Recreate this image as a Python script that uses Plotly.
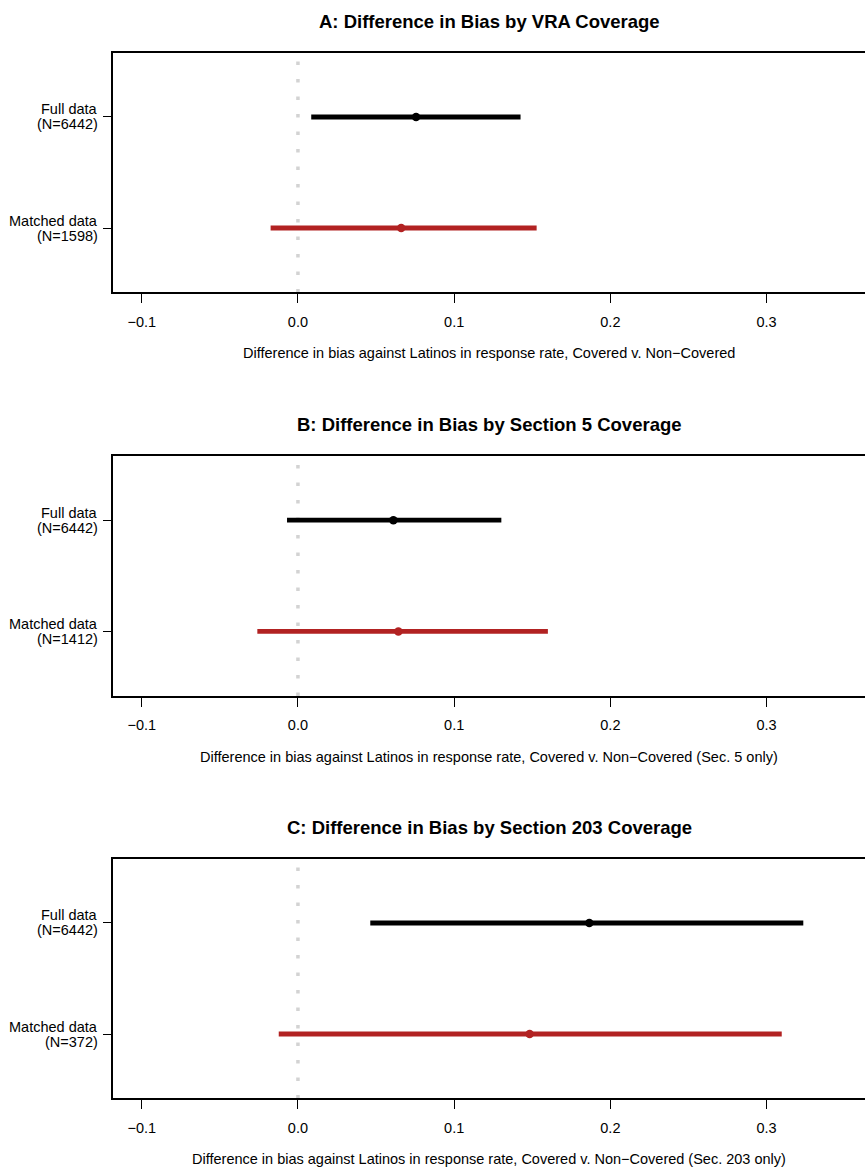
import plotly.graph_objects as go

# ---- data ----
row_line1 = ["Full data", "Matched data"]
row_line2_A = ["(N=6442)", "(N=1598)"]
row_line2_B = ["(N=6442)", "(N=1412)"]
row_line2_C = ["(N=6442)", "(N=372)"]
row_pos = [2, 1]

est_A = [0.0756, 0.0661]
lo_A = [0.0085, -0.0175]
hi_A = [0.1425, 0.1528]

est_B = [0.0611, 0.0643]
lo_B = [-0.0070, -0.0260]
hi_B = [0.1302, 0.1600]

est_C = [0.1865, 0.1483]
lo_C = [0.0463, -0.0123]
hi_C = [0.3235, 0.3097]

titles = ["A: Difference in Bias by VRA Coverage",
          "B: Difference in Bias by Section 5 Coverage",
          "C: Difference in Bias by Section 203 Coverage"]
xtitles = ["Difference in bias against Latinos in response rate, Covered v. Non\u2212Covered",
           "Difference in bias against Latinos in response rate, Covered v. Non\u2212Covered (Sec. 5 only)",
           "Difference in bias against Latinos in response rate, Covered v. Non\u2212Covered (Sec. 203 only)"]
xticks = [-0.1, 0.0, 0.1, 0.2, 0.3]
xticklabels = ["\u22120.1", "0.0", "0.1", "0.2", "0.3"]
colors = ["black", "#B22222"]

W, H = 865, 1173
FONT = "Liberation Sans, Arial, Helvetica, sans-serif"
FS = 14.5

panels = [
    (est_A, lo_A, hi_A, row_line2_A, 52.6, 292.4),
    (est_B, lo_B, hi_B, row_line2_B, 455.6, 696.0),
    (est_C, lo_C, hi_C, row_line2_C, 858.6, 1098.4),
]

fig = go.Figure()
yrange = [0.42, 2.58]
xrange = [-0.1184, 0.3630]

for i, (est, lo, hi, line2, top, bot) in enumerate(panels):
    sfx = "" if i == 0 else str(i + 1)
    xa, ya = "x" + sfx, "y" + sfx
    # reference line at 0
    fig.add_trace(go.Scatter(x=[0, 0], y=yrange, mode="lines",
                             line=dict(color="#d3d3d3", width=3.5, dash="3.5px,14px"),
                             xaxis=xa, yaxis=ya, showlegend=False, hoverinfo="skip"))
    for j in range(2):
        fig.add_trace(go.Scatter(x=[lo[j], hi[j]], y=[row_pos[j], row_pos[j]], mode="lines",
                                 line=dict(color=colors[j], width=4.8),
                                 xaxis=xa, yaxis=ya, showlegend=False))
        fig.add_trace(go.Scatter(x=[est[j]], y=[row_pos[j]], mode="markers",
                                 marker=dict(color=colors[j], size=8.5),
                                 xaxis=xa, yaxis=ya, showlegend=False))
        # two-line row label
        for txt, shift in ((row_line1[j], 7.5), (line2[j], -7.5)):
            fig.add_annotation(text=txt, xref="paper", yref=ya, x=0, y=row_pos[j],
                               xanchor="right", yanchor="middle", xshift=-13, yshift=shift,
                               showarrow=False, font=dict(family=FONT, size=FS, color="black"))
    d0 = 1 - bot / H
    d1 = 1 - top / H
    fig.layout["xaxis" + sfx] = dict(
        range=xrange, domain=[0, 1], anchor=ya,
        tickvals=xticks, ticktext=xticklabels,
        ticks="outside", ticklen=9, tickwidth=1.3, tickcolor="black",
        showline=True, linecolor="black", linewidth=1.6, mirror=True,
        showgrid=False, zeroline=False,
        tickfont=dict(family=FONT, size=FS, color="black"),
        ticklabelstandoff=6,
    )
    fig.layout["yaxis" + sfx] = dict(
        range=yrange, domain=[d0, d1], anchor=xa,
        tickvals=row_pos, showticklabels=False,
        ticks="outside", ticklen=8, tickwidth=1.3, tickcolor="black",
        showline=True, linecolor="black", linewidth=1.6, mirror=False,
        showgrid=False, zeroline=False,
    )
    # panel title
    fig.add_annotation(text="<b>" + titles[i] + "</b>", xref="paper", yref="paper",
                       x=0.5, y=1 - (top - 31) / H, xanchor="center", yanchor="middle",
                       showarrow=False, font=dict(family=FONT, size=18.5, color="black"))
    # x-axis title
    fig.add_annotation(text=xtitles[i], xref="paper", yref="paper",
                       x=0.5, y=1 - (bot + 61) / H, xanchor="center", yanchor="middle",
                       showarrow=False, font=dict(family=FONT, size=FS, color="black"))

fig.update_layout(width=W, height=H, autosize=False,
                  margin=dict(l=113, r=0, t=0, b=0),
                  paper_bgcolor="white", plot_bgcolor="white",
                  font=dict(family=FONT, color="black"))

fig.write_html("out.html", config={"displayModeBar": False},
               post_script="document.body.style.margin='0';document.body.style.overflow='hidden';")
